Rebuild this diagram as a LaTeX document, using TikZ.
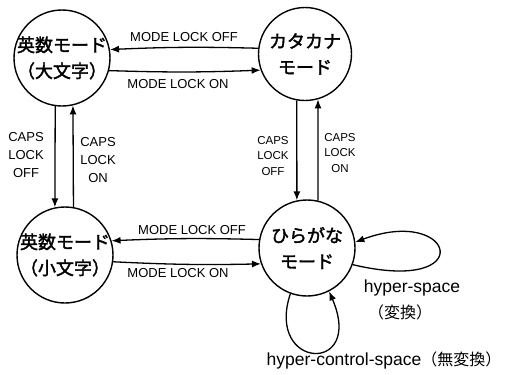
\documentclass[tikz,border=0pt]{standalone}
\usepackage{fontspec}
\setmainfont{Liberation Sans}
\newfontfamily\jp{Noto Sans CJK JP}[AutoFakeBold=2]
\usetikzlibrary{arrows.meta}
\tikzset{
  state/.style={circle, draw, line width=1.4pt, minimum size=96pt, inner sep=0pt},
  statetext/.style={font=\jp\bfseries\fontsize{18}{26}\selectfont, align=center},
  conn/.style={line width=1.3pt, -{Latex[length=9pt,width=7pt]}},
  lbl/.style={font=\fontsize{13}{18}\selectfont, align=center, inner sep=0pt},
  slbl/.style={font=\fontsize{11.5}{15.5}\selectfont, align=center, inner sep=0pt},
  hlbl/.style={font=\fontsize{17.5}{22}\selectfont, align=center, inner sep=0pt}
}
\begin{document}
\begin{tikzpicture}[x=1pt, y=-1pt]
\useasboundingbox (0,0) rectangle (512,375);
\node[state] (A) at (62,58) {};
\node[statetext] (At) at (A.center) {英数モード\\（大文字）};
\node[state, minimum size=93pt] (K) at (305,54) {};
\node[statetext] (Kt) at (K.center) {カタカナ\\モード};
\node[state] (L) at (65,255) {};
\node[statetext] (Lt) at (L.center) {英数モード\\（小文字）};
\node[state] (H) at (307,248) {};
\node[statetext] (Ht) at (H.center) {ひらがな\\モード};

% top pair
\draw[conn] (K.173) to[bend right=2] (A.10);
\draw[conn] (A.-15) to[bend right=2] (K.200);
% bottom pair
\draw[conn] (H.170) to[bend right=2] (L.17);
\draw[conn] (L.-8) to[bend right=2] (H.199);
% left verticals
\draw[conn] (A.262) -- (L.102);
\draw[conn] (L.80) -- (A.283);
% right verticals
\draw[conn] (K.260) -- (H.102);
\draw[conn] (H.77) -- (K.286);
% self loops
\draw[conn] (H.-20) .. controls (480,295) and (455,205) .. (H.7);
\draw[conn] (H.250) .. controls (265,370) and (365,375) .. (H.297);

% labels
\node[lbl] (l1) at (184,37) {MODE LOCK OFF};
\node[lbl] (l2) at (178,84) {MODE LOCK ON};
\node[lbl] (l3) at (192,230) {MODE LOCK OFF};
\node[lbl] (l4) at (178,273) {MODE LOCK ON};
\node[lbl] (l5) at (26,155) {CAPS\\LOCK\\OFF};
\node[lbl] (l6) at (98,160) {CAPS\\LOCK\\ON};
\node[slbl] (l7) at (273,156) {CAPS\\LOCK\\OFF};
\node[slbl] (l8) at (340,153) {CAPS\\LOCK\\ON};
\node[hlbl] (l9) at (412,288) {hyper-space};
\node[hlbl, font=\jp\fontsize{16}{22}\selectfont] (l10) at (400,312) {（変換）};
\node[hlbl] (l11) at (384,360) {hyper-control-space{\jp\fontsize{16}{22}\selectfont（無変換）}};
\end{tikzpicture}
\end{document}
